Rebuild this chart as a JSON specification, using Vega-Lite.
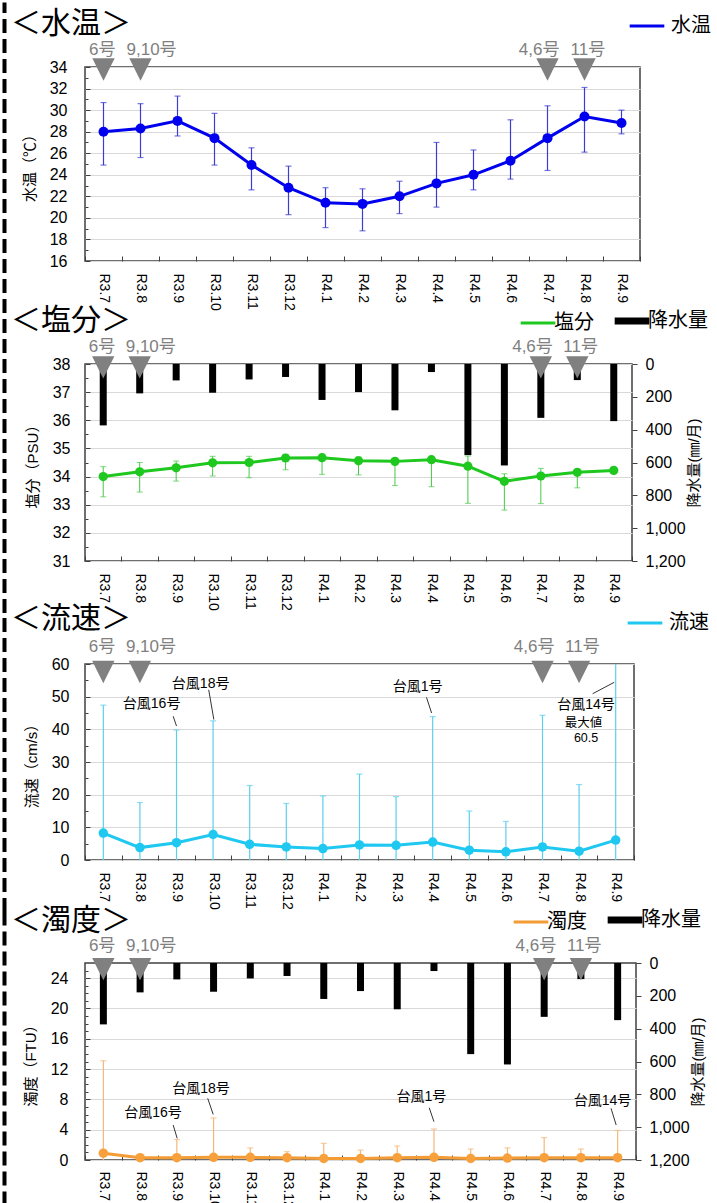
{
"$schema": "https://vega.github.io/schema/vega-lite/v6.json",
"padding": {"left": 3, "top": 6, "right": 0, "bottom": 0},
"spacing": 103,
"bounds": "flush",
"resolve": {"scale": {"color": "independent"}, "legend": {"color": "independent"}},
"datasets": {
"temp": [
{"m":"R3.7","v":28.0,"lo":24.9,"hi":30.7},{"m":"R3.8","v":28.3,"lo":25.6,"hi":30.6},{"m":"R3.9","v":29.0,"lo":27.6,"hi":31.3},{"m":"R3.10","v":27.4,"lo":24.9,"hi":29.7},{"m":"R3.11","v":24.9,"lo":22.6,"hi":26.5},{"m":"R3.12","v":22.8,"lo":20.3,"hi":24.8},{"m":"R4.1","v":21.4,"lo":19.1,"hi":22.8},{"m":"R4.2","v":21.3,"lo":18.8,"hi":22.7},{"m":"R4.3","v":22.0,"lo":20.4,"hi":23.4},{"m":"R4.4","v":23.2,"lo":21.0,"hi":27.0},{"m":"R4.5","v":24.0,"lo":22.6,"hi":26.3},{"m":"R4.6","v":25.3,"lo":23.6,"hi":29.1},{"m":"R4.7","v":27.4,"lo":24.4,"hi":30.4},{"m":"R4.8","v":29.4,"lo":26.1,"hi":32.1},{"m":"R4.9","v":28.8,"lo":27.8,"hi":30.0}],
"sal": [
{"m":"R3.7","v":34.0,"lo":33.28,"hi":34.35},{"m":"R3.8","v":34.17,"lo":33.45,"hi":34.5},{"m":"R3.9","v":34.31,"lo":33.84,"hi":34.55},{"m":"R3.10","v":34.49,"lo":34.02,"hi":34.72},{"m":"R3.11","v":34.5,"lo":33.96,"hi":34.72},{"m":"R3.12","v":34.66,"lo":34.24,"hi":34.79},{"m":"R4.1","v":34.67,"lo":34.08,"hi":34.79},{"m":"R4.2","v":34.56,"lo":34.06,"hi":34.7},{"m":"R4.3","v":34.54,"lo":33.68,"hi":34.62},{"m":"R4.4","v":34.6,"lo":33.64,"hi":34.68},{"m":"R4.5","v":34.37,"lo":33.05,"hi":34.73},{"m":"R4.6","v":33.83,"lo":32.81,"hi":34.1},{"m":"R4.7","v":34.02,"lo":33.04,"hi":34.29},{"m":"R4.8","v":34.15,"lo":33.6,"hi":34.25},{"m":"R4.9","v":34.22,"lo":34.12,"hi":34.3}],
"rain": [
{"m":"R3.7","p":374},{"m":"R3.8","p":179},{"m":"R3.9","p":100},{"m":"R3.10","p":175},{"m":"R3.11","p":94},{"m":"R3.12","p":79},{"m":"R4.1","p":219},{"m":"R4.2","p":171},{"m":"R4.3","p":282},{"m":"R4.4","p":49},{"m":"R4.5","p":555},{"m":"R4.6","p":618},{"m":"R4.7","p":328},{"m":"R4.8","p":98},{"m":"R4.9","p":348}],
"flow": [
{"m":"R3.7","v":8.25,"lo":0,"hi":47.4},{"m":"R3.8","v":3.8,"lo":0,"hi":17.6},{"m":"R3.9","v":5.3,"lo":0,"hi":39.8},{"m":"R3.10","v":7.8,"lo":0,"hi":42.6},{"m":"R3.11","v":4.8,"lo":0,"hi":22.8},{"m":"R3.12","v":4.0,"lo":0,"hi":17.3},{"m":"R4.1","v":3.5,"lo":0,"hi":19.6},{"m":"R4.2","v":4.6,"lo":0,"hi":26.3},{"m":"R4.3","v":4.5,"lo":0,"hi":19.4},{"m":"R4.4","v":5.5,"lo":0,"hi":43.9},{"m":"R4.5","v":3.0,"lo":0,"hi":15.0},{"m":"R4.6","v":2.5,"lo":0,"hi":11.8},{"m":"R4.7","v":4.0,"lo":0,"hi":44.3},{"m":"R4.8","v":2.7,"lo":0,"hi":23.1},{"m":"R4.9","v":6.1,"lo":0,"hi":60.5}],
"turb": [
{"m":"R3.7","v":0.9,"lo":0,"hi":13.1},{"m":"R3.8","v":0.3,"lo":0,"hi":0.5},{"m":"R3.9","v":0.3,"lo":0,"hi":2.7},{"m":"R3.10","v":0.35,"lo":0,"hi":5.55},{"m":"R3.11","v":0.35,"lo":0,"hi":1.6},{"m":"R3.12","v":0.3,"lo":0,"hi":1.1},{"m":"R4.1","v":0.2,"lo":0,"hi":2.2},{"m":"R4.2","v":0.2,"lo":0,"hi":1.3},{"m":"R4.3","v":0.3,"lo":0,"hi":1.85},{"m":"R4.4","v":0.35,"lo":0,"hi":4.1},{"m":"R4.5","v":0.2,"lo":0,"hi":1.45},{"m":"R4.6","v":0.25,"lo":0,"hi":1.6},{"m":"R4.7","v":0.3,"lo":0,"hi":2.95},{"m":"R4.8","v":0.3,"lo":0,"hi":1.45},{"m":"R4.9","v":0.3,"lo":0,"hi":3.9}],
"typhoon": [{"m":"R3.7","label":"6号"},{"m":"R3.8","label":"9,10号"},{"m":"R4.7","label":"4,6号"},{"m":"R4.8","label":"11号"}],
"ann3": [{"t":"台風16号","x":1.82,"y":47.8},{"t":"台風18号","x":3.16,"y":53.9},{"t":"台風1号","x":9.09,"y":53.0},{"t":"台風14号","x":13.69,"y":47.5}],
"ann3b": [{"t":"最大値","x":13.62,"y":41.9},{"t":"60.5","x":13.69,"y":37.4}],
"lead3": [{"x":2.41,"y":44.0,"x2":2.50,"y2":41.0},{"x":3.38,"y":52.1,"x2":3.52,"y2":43.0},{"x":9.33,"y":49.8,"x2":9.47,"y2":45.0},{"x":13.87,"y":50.9,"x2":14.46,"y2":54.4}],
"ann4": [{"t":"台風16号","x":1.85,"y":6.25},{"t":"台風18号","x":3.16,"y":9.35},{"t":"台風1号","x":9.16,"y":8.36},{"t":"台風14号","x":14.09,"y":7.83}],
"lead4": [{"x":2.40,"y":4.62,"x2":2.51,"y2":2.85},{"x":3.34,"y":8.14,"x2":3.49,"y2":6.02},{"x":9.37,"y":6.9,"x2":9.50,"y2":5.06},{"x":14.32,"y":6.82,"x2":14.46,"y2":4.62}]
},
"vconcat": [
{
"width": 555, "height": 194,
"title": {"text": "＜水温＞", "frame": "group", "dx": -74, "offset": 1, "dy": 33},
"resolve": {"scale": {"x": "independent", "y": "independent"}},
"layer": [
{"data": {"name": "typhoon"}, "mark": {"type": "point", "opacity": 0},
 "encoding": {"y": {"datum": 0, "type": "quantitative", "scale": {"domain": [0, 1], "range": [245.5, -65]}, "axis": {"orient": "left", "offset": 81, "domain": true, "domainDash": [14, 6], "domainWidth": 4, "domainColor": "#000", "ticks": false, "labels": false, "grid": false, "title": null}}}},
{"data": {"name": "temp"}, "mark": {"type": "rule", "color": "#3c3cd2", "strokeWidth": 1.2},
 "encoding": {"x": {"field": "m", "type": "nominal", "scale": {"type": "band", "domain": ["R3.7","R3.8","R3.9","R3.10","R3.11","R3.12","R4.1","R4.2","R4.3","R4.4","R4.5","R4.6","R4.7","R4.8","R4.9"], "paddingInner": 0, "paddingOuter": 0}, "axis": null},
  "y": {"field": "lo", "type": "quantitative", "scale": {"domain": [16, 34], "nice": false, "zero": false}, "axis": {"orient": "left", "values": [17,19,21,23,25,27,29,31,33], "labels": false, "grid": false, "tickSize": -3, "title": null}},
  "y2": {"field": "hi"}}},
{"data": {"name": "temp"}, "mark": {"type": "tick", "color": "#3c3cd2", "size": 6, "thickness": 1.2},
 "encoding": {"x": {"field": "m", "type": "nominal", "scale": {"type": "band", "domain": ["R3.7","R3.8","R3.9","R3.10","R3.11","R3.12","R4.1","R4.2","R4.3","R4.4","R4.5","R4.6","R4.7","R4.8","R4.9"], "paddingInner": 0, "paddingOuter": 0}, "axis": null},
  "y": {"field": "lo", "type": "quantitative", "scale": {"domain": [16, 34], "nice": false, "zero": false}, "axis": null}}},
{"data": {"name": "temp"}, "mark": {"type": "tick", "color": "#3c3cd2", "size": 6, "thickness": 1.2},
 "encoding": {"x": {"field": "m", "type": "nominal", "scale": {"type": "band", "domain": ["R3.7","R3.8","R3.9","R3.10","R3.11","R3.12","R4.1","R4.2","R4.3","R4.4","R4.5","R4.6","R4.7","R4.8","R4.9"], "paddingInner": 0, "paddingOuter": 0}, "axis": null},
  "y": {"field": "hi", "type": "quantitative", "scale": {"domain": [16, 34], "nice": false, "zero": false}, "axis": null}}},
{"data": {"name": "temp"}, "mark": {"type": "line", "strokeWidth": 3},
 "encoding": {"x": {"field": "m", "type": "nominal", "scale": {"type": "band", "domain": ["R3.7","R3.8","R3.9","R3.10","R3.11","R3.12","R4.1","R4.2","R4.3","R4.4","R4.5","R4.6","R4.7","R4.8","R4.9"], "paddingInner": 0, "paddingOuter": 0},
   "axis": {"orient": "bottom", "title": null, "labelAngle": 90, "labelAlign": "left", "labelBaseline": "middle", "labelFontSize": 14, "tickBand": "extent", "tickSize": -5, "labelPadding": 17, "grid": false}},
  "y": {"field": "v", "type": "quantitative", "scale": {"domain": [16, 34], "nice": false, "zero": false}, "axis": {"orient": "left", "title": "水温（℃）", "values": [16,18,20,22,24,26,28,30,32,34], "grid": true, "tickSize": -5, "labelPadding": 23}},
  "color": {"datum": "水温", "type": "nominal", "scale": {"domain": ["水温"], "range": ["#0000ee"]}, "legend": {"orient": "none", "legendX": 543, "legendY": -60, "title": null, "symbolStrokeWidth": 3}}}},
{"data": {"name": "temp"}, "mark": {"type": "circle", "size": 100, "color": "#0000ee", "opacity": 1},
 "encoding": {"x": {"field": "m", "type": "nominal", "scale": {"type": "band", "domain": ["R3.7","R3.8","R3.9","R3.10","R3.11","R3.12","R4.1","R4.2","R4.3","R4.4","R4.5","R4.6","R4.7","R4.8","R4.9"], "paddingInner": 0, "paddingOuter": 0}, "axis": null},
  "y": {"field": "v", "type": "quantitative", "scale": {"domain": [16, 34], "nice": false, "zero": false}, "axis": null}}},
{"data": {"name": "typhoon"}, "mark": {"type": "point", "shape": "M-1,-1L1,-1L0,1Z", "size": 500, "filled": true, "color": "#808080", "opacity": 1},
 "encoding": {"x": {"field": "m", "type": "nominal", "scale": {"type": "band", "domain": ["R3.7","R3.8","R3.9","R3.10","R3.11","R3.12","R4.1","R4.2","R4.3","R4.4","R4.5","R4.6","R4.7","R4.8","R4.9"], "paddingInner": 0, "paddingOuter": 0}, "axis": null},
  "y": {"datum": 33.77, "type": "quantitative", "scale": {"domain": [16, 34], "nice": false, "zero": false}, "axis": null}}},
{"data": {"name": "typhoon"}, "transform": [{"filter": {"field": "label", "oneOf": ["6号", "4,6号"]}}],
 "mark": {"type": "text", "align": "right", "baseline": "bottom", "dx": 12, "dy": -8, "fontSize": 17, "color": "#808080"},
 "encoding": {"x": {"field": "m", "type": "nominal", "scale": {"type": "band", "domain": ["R3.7","R3.8","R3.9","R3.10","R3.11","R3.12","R4.1","R4.2","R4.3","R4.4","R4.5","R4.6","R4.7","R4.8","R4.9"], "paddingInner": 0, "paddingOuter": 0}, "axis": null},
  "y": {"datum": 34, "type": "quantitative", "scale": {"domain": [16, 34], "nice": false, "zero": false}, "axis": null},
  "text": {"field": "label"}}},
{"data": {"name": "typhoon"}, "transform": [{"filter": {"field": "label", "oneOf": ["9,10号", "11号"]}}],
 "mark": {"type": "text", "align": "left", "baseline": "bottom", "dx": -14, "dy": -8, "fontSize": 17, "color": "#808080"},
 "encoding": {"x": {"field": "m", "type": "nominal", "scale": {"type": "band", "domain": ["R3.7","R3.8","R3.9","R3.10","R3.11","R3.12","R4.1","R4.2","R4.3","R4.4","R4.5","R4.6","R4.7","R4.8","R4.9"], "paddingInner": 0, "paddingOuter": 0}, "axis": null},
  "y": {"datum": 34, "type": "quantitative", "scale": {"domain": [16, 34], "nice": false, "zero": false}, "axis": null},
  "text": {"field": "label"}}}
]
},
{
"width": 547, "height": 197,
"title": {"text": "＜塩分＞", "frame": "group", "dx": -74, "offset": 1, "dy": 26},
"resolve": {"scale": {"x": "independent", "y": "independent"}},
"layer": [
{"data": {"name": "typhoon"}, "mark": {"type": "point", "opacity": 0},
 "encoding": {"y": {"datum": 0, "type": "quantitative", "scale": {"domain": [0, 1], "range": [248.5, -51.5]}, "axis": {"orient": "left", "offset": 81, "domain": true, "domainDash": [14, 6], "domainWidth": 4, "domainColor": "#000", "ticks": false, "labels": false, "grid": false, "title": null}}}},
{"data": {"name": "rain"}, "mark": {"type": "bar", "size": 7},
 "encoding": {"x": {"field": "m", "type": "nominal", "scale": {"type": "band", "domain": ["R3.7","R3.8","R3.9","R3.10","R3.11","R3.12","R4.1","R4.2","R4.3","R4.4","R4.5","R4.6","R4.7","R4.8","R4.9"], "paddingInner": 0, "paddingOuter": 0}, "axis": null},
  "y": {"field": "p", "type": "quantitative", "scale": {"domain": [0, 1200], "reverse": true, "nice": false}, "axis": {"orient": "right", "values": [0,200,400,600,800,1000,1200], "format": ",.0f", "tickSize": 5, "labelPadding": 8, "grid": false, "title": "降水量(㎜/月)", "titleAngle": 270, "titlePadding": 16}},
  "color": {"datum": "降水量", "type": "nominal"}}},
{"data": {"name": "sal"}, "mark": {"type": "rule", "color": "#46c846", "strokeWidth": 1},
 "encoding": {"x": {"field": "m", "type": "nominal", "scale": {"type": "band", "domain": ["R3.7","R3.8","R3.9","R3.10","R3.11","R3.12","R4.1","R4.2","R4.3","R4.4","R4.5","R4.6","R4.7","R4.8","R4.9"], "paddingInner": 0, "paddingOuter": 0}, "axis": null},
  "y": {"field": "lo", "type": "quantitative", "scale": {"domain": [31, 38], "nice": false, "zero": false}, "axis": {"orient": "left", "values": [31.5,32.5,33.5,34.5,35.5,36.5,37.5], "labels": false, "grid": false, "tickSize": -3, "title": null}},
  "y2": {"field": "hi"}}},
{"data": {"name": "sal"}, "mark": {"type": "tick", "color": "#46c846", "size": 6, "thickness": 1},
 "encoding": {"x": {"field": "m", "type": "nominal", "scale": {"type": "band", "domain": ["R3.7","R3.8","R3.9","R3.10","R3.11","R3.12","R4.1","R4.2","R4.3","R4.4","R4.5","R4.6","R4.7","R4.8","R4.9"], "paddingInner": 0, "paddingOuter": 0}, "axis": null},
  "y": {"field": "lo", "type": "quantitative", "scale": {"domain": [31, 38], "nice": false, "zero": false}, "axis": null}}},
{"data": {"name": "sal"}, "mark": {"type": "tick", "color": "#46c846", "size": 6, "thickness": 1},
 "encoding": {"x": {"field": "m", "type": "nominal", "scale": {"type": "band", "domain": ["R3.7","R3.8","R3.9","R3.10","R3.11","R3.12","R4.1","R4.2","R4.3","R4.4","R4.5","R4.6","R4.7","R4.8","R4.9"], "paddingInner": 0, "paddingOuter": 0}, "axis": null},
  "y": {"field": "hi", "type": "quantitative", "scale": {"domain": [31, 38], "nice": false, "zero": false}, "axis": null}}},
{"data": {"name": "sal"}, "mark": {"type": "line", "strokeWidth": 3},
 "encoding": {"x": {"field": "m", "type": "nominal", "scale": {"type": "band", "domain": ["R3.7","R3.8","R3.9","R3.10","R3.11","R3.12","R4.1","R4.2","R4.3","R4.4","R4.5","R4.6","R4.7","R4.8","R4.9"], "paddingInner": 0, "paddingOuter": 0},
   "axis": {"orient": "bottom", "title": null, "labelAngle": 90, "labelAlign": "left", "labelBaseline": "middle", "labelFontSize": 14, "tickBand": "extent", "tickSize": -5, "labelPadding": 17, "grid": false}},
  "y": {"field": "v", "type": "quantitative", "scale": {"domain": [31, 38], "nice": false, "zero": false}, "axis": {"orient": "left", "title": "塩分（PSU）", "values": [31,32,33,34,35,36,37,38], "grid": true, "tickSize": -5, "labelPadding": 20}},
  "color": {"datum": "塩分", "type": "nominal", "scale": {"domain": ["塩分", "降水量"], "range": ["#1ec81e", "#000000"]},
   "legend": {"orient": "none", "legendX": 443, "legendY": -53, "direction": "horizontal", "title": null, "columnPadding": 6, "labelOffset": 6,
    "encode": {"symbols": {"update": {"stroke": {"signal": "datum.value === '降水量' ? '#000000' : '#1ec864'"}, "strokeWidth": {"signal": "datum.value === '降水量' ? 7 : 3"}}}}}}}},
{"data": {"name": "sal"}, "mark": {"type": "circle", "size": 85, "color": "#1ec81e", "opacity": 1},
 "encoding": {"x": {"field": "m", "type": "nominal", "scale": {"type": "band", "domain": ["R3.7","R3.8","R3.9","R3.10","R3.11","R3.12","R4.1","R4.2","R4.3","R4.4","R4.5","R4.6","R4.7","R4.8","R4.9"], "paddingInner": 0, "paddingOuter": 0}, "axis": null},
  "y": {"field": "v", "type": "quantitative", "scale": {"domain": [31, 38], "nice": false, "zero": false}, "axis": null}}},
{"data": {"name": "typhoon"}, "mark": {"type": "point", "shape": "M-1,-1L1,-1L0,1Z", "size": 500, "filled": true, "color": "#808080", "opacity": 1},
 "encoding": {"x": {"field": "m", "type": "nominal", "scale": {"type": "band", "domain": ["R3.7","R3.8","R3.9","R3.10","R3.11","R3.12","R4.1","R4.2","R4.3","R4.4","R4.5","R4.6","R4.7","R4.8","R4.9"], "paddingInner": 0, "paddingOuter": 0}, "axis": null},
  "y": {"datum": 37.88, "type": "quantitative", "scale": {"domain": [31, 38], "nice": false, "zero": false}, "axis": null}}},
{"data": {"name": "typhoon"}, "transform": [{"filter": {"field": "label", "oneOf": ["6号", "4,6号"]}}],
 "mark": {"type": "text", "align": "right", "baseline": "bottom", "dx": 12, "dy": -8, "fontSize": 17, "color": "#808080"},
 "encoding": {"x": {"field": "m", "type": "nominal", "scale": {"type": "band", "domain": ["R3.7","R3.8","R3.9","R3.10","R3.11","R3.12","R4.1","R4.2","R4.3","R4.4","R4.5","R4.6","R4.7","R4.8","R4.9"], "paddingInner": 0, "paddingOuter": 0}, "axis": null},
  "y": {"datum": 38, "type": "quantitative", "scale": {"domain": [31, 38], "nice": false, "zero": false}, "axis": null},
  "text": {"field": "label"}}},
{"data": {"name": "typhoon"}, "transform": [{"filter": {"field": "label", "oneOf": ["9,10号", "11号"]}}],
 "mark": {"type": "text", "align": "left", "baseline": "bottom", "dx": -14, "dy": -8, "fontSize": 17, "color": "#808080"},
 "encoding": {"x": {"field": "m", "type": "nominal", "scale": {"type": "band", "domain": ["R3.7","R3.8","R3.9","R3.10","R3.11","R3.12","R4.1","R4.2","R4.3","R4.4","R4.5","R4.6","R4.7","R4.8","R4.9"], "paddingInner": 0, "paddingOuter": 0}, "axis": null},
  "y": {"datum": 38, "type": "quantitative", "scale": {"domain": [31, 38], "nice": false, "zero": false}, "axis": null},
  "text": {"field": "label"}}}
]
},
{
"width": 549, "height": 196,
"title": {"text": "＜流速＞", "frame": "group", "dx": -74, "offset": 1, "dy": 31},
"resolve": {"scale": {"x": "independent", "y": "independent"}},
"layer": [
{"data": {"name": "typhoon"}, "mark": {"type": "point", "opacity": 0},
 "encoding": {"y": {"datum": 0, "type": "quantitative", "scale": {"domain": [0, 1], "range": [247.5, -51.5]}, "axis": {"orient": "left", "offset": 81, "domain": true, "domainDash": [14, 6], "domainWidth": 4, "domainColor": "#000", "ticks": false, "labels": false, "grid": false, "title": null}}}},
{"data": {"name": "flow"}, "mark": {"type": "rule", "color": "#5ccfee", "strokeWidth": 1.2, "clip": true},
 "encoding": {"x": {"field": "m", "type": "nominal", "scale": {"type": "band", "domain": ["R3.7","R3.8","R3.9","R3.10","R3.11","R3.12","R4.1","R4.2","R4.3","R4.4","R4.5","R4.6","R4.7","R4.8","R4.9"], "paddingInner": 0, "paddingOuter": 0}, "axis": null},
  "y": {"field": "lo", "type": "quantitative", "scale": {"domain": [0, 60], "nice": false, "zero": false}, "axis": {"orient": "left", "values": [5,15,25,35,45,55], "labels": false, "grid": false, "tickSize": -3, "title": null}},
  "y2": {"field": "hi"}}},
{"data": {"name": "flow"}, "mark": {"type": "tick", "color": "#5ccfee", "size": 6, "thickness": 1.2, "clip": true},
 "encoding": {"x": {"field": "m", "type": "nominal", "scale": {"type": "band", "domain": ["R3.7","R3.8","R3.9","R3.10","R3.11","R3.12","R4.1","R4.2","R4.3","R4.4","R4.5","R4.6","R4.7","R4.8","R4.9"], "paddingInner": 0, "paddingOuter": 0}, "axis": null},
  "y": {"field": "hi", "type": "quantitative", "scale": {"domain": [0, 60], "nice": false, "zero": false}, "axis": null}}},
{"data": {"name": "flow"}, "mark": {"type": "line", "strokeWidth": 3},
 "encoding": {"x": {"field": "m", "type": "nominal", "scale": {"type": "band", "domain": ["R3.7","R3.8","R3.9","R3.10","R3.11","R3.12","R4.1","R4.2","R4.3","R4.4","R4.5","R4.6","R4.7","R4.8","R4.9"], "paddingInner": 0, "paddingOuter": 0},
   "axis": {"orient": "bottom", "title": null, "labelAngle": 90, "labelAlign": "left", "labelBaseline": "middle", "labelFontSize": 14, "tickBand": "extent", "tickSize": -5, "labelPadding": 17, "grid": false}},
  "y": {"field": "v", "type": "quantitative", "scale": {"domain": [0, 60], "nice": false, "zero": false}, "axis": {"orient": "left", "title": "流速（cm/s）", "values": [0,10,20,30,40,50,60], "grid": true, "tickSize": -5, "labelPadding": 21}},
  "color": {"datum": "流速", "type": "nominal", "scale": {"domain": ["流速"], "range": ["#1ec8f0"]}, "legend": {"orient": "none", "legendX": 541, "legendY": -60, "title": null, "symbolStrokeWidth": 3}}}},
{"data": {"name": "flow"}, "mark": {"type": "circle", "size": 90, "color": "#1ec8f0", "opacity": 1},
 "encoding": {"x": {"field": "m", "type": "nominal", "scale": {"type": "band", "domain": ["R3.7","R3.8","R3.9","R3.10","R3.11","R3.12","R4.1","R4.2","R4.3","R4.4","R4.5","R4.6","R4.7","R4.8","R4.9"], "paddingInner": 0, "paddingOuter": 0}, "axis": null},
  "y": {"field": "v", "type": "quantitative", "scale": {"domain": [0, 60], "nice": false, "zero": false}, "axis": null}}},
{"data": {"name": "typhoon"}, "mark": {"type": "point", "shape": "M-1,-1L1,-1L0,1Z", "size": 500, "filled": true, "color": "#808080", "opacity": 1},
 "encoding": {"x": {"field": "m", "type": "nominal", "scale": {"type": "band", "domain": ["R3.7","R3.8","R3.9","R3.10","R3.11","R3.12","R4.1","R4.2","R4.3","R4.4","R4.5","R4.6","R4.7","R4.8","R4.9"], "paddingInner": 0, "paddingOuter": 0}, "axis": null},
  "y": {"datum": 57.55, "type": "quantitative", "scale": {"domain": [0, 60], "nice": false, "zero": false}, "axis": null}}},
{"data": {"name": "typhoon"}, "transform": [{"filter": {"field": "label", "oneOf": ["6号", "4,6号"]}}],
 "mark": {"type": "text", "align": "right", "baseline": "bottom", "dx": 12, "dy": -8, "fontSize": 17, "color": "#808080"},
 "encoding": {"x": {"field": "m", "type": "nominal", "scale": {"type": "band", "domain": ["R3.7","R3.8","R3.9","R3.10","R3.11","R3.12","R4.1","R4.2","R4.3","R4.4","R4.5","R4.6","R4.7","R4.8","R4.9"], "paddingInner": 0, "paddingOuter": 0}, "axis": null},
  "y": {"datum": 60, "type": "quantitative", "scale": {"domain": [0, 60], "nice": false, "zero": false}, "axis": null},
  "text": {"field": "label"}}},
{"data": {"name": "typhoon"}, "transform": [{"filter": {"field": "label", "oneOf": ["9,10号", "11号"]}}],
 "mark": {"type": "text", "align": "left", "baseline": "bottom", "dx": -14, "dy": -8, "fontSize": 17, "color": "#808080"},
 "encoding": {"x": {"field": "m", "type": "nominal", "scale": {"type": "band", "domain": ["R3.7","R3.8","R3.9","R3.10","R3.11","R3.12","R4.1","R4.2","R4.3","R4.4","R4.5","R4.6","R4.7","R4.8","R4.9"], "paddingInner": 0, "paddingOuter": 0}, "axis": null},
  "y": {"datum": 60, "type": "quantitative", "scale": {"domain": [0, 60], "nice": false, "zero": false}, "axis": null},
  "text": {"field": "label"}}},
{"data": {"name": "ann3"}, "mark": {"type": "text", "fontSize": 14, "baseline": "middle", "align": "center", "color": "#000"},
 "encoding": {"x": {"field": "x", "type": "quantitative", "scale": {"domain": [0, 15], "nice": false, "zero": false}, "axis": null},
  "y": {"field": "y", "type": "quantitative", "scale": {"domain": [0, 60], "nice": false, "zero": false}, "axis": null},
  "text": {"field": "t"}}},
{"data": {"name": "ann3b"}, "mark": {"type": "text", "fontSize": 12.5, "baseline": "middle", "align": "center", "color": "#000"},
 "encoding": {"x": {"field": "x", "type": "quantitative", "scale": {"domain": [0, 15], "nice": false, "zero": false}, "axis": null},
  "y": {"field": "y", "type": "quantitative", "scale": {"domain": [0, 60], "nice": false, "zero": false}, "axis": null},
  "text": {"field": "t"}}},
{"data": {"name": "lead3"}, "mark": {"type": "rule", "color": "#000", "strokeWidth": 0.8},
 "encoding": {"x": {"field": "x", "type": "quantitative", "scale": {"domain": [0, 15], "nice": false, "zero": false}, "axis": null},
  "x2": {"field": "x2"},
  "y": {"field": "y", "type": "quantitative", "scale": {"domain": [0, 60], "nice": false, "zero": false}, "axis": null},
  "y2": {"field": "y2"}}}
]
},
{
"width": 551, "height": 197,
"title": {"text": "＜濁度＞", "frame": "group", "dx": -74, "offset": 1, "dy": 27},
"resolve": {"scale": {"x": "independent", "y": "independent"}},
"layer": [
{"data": {"name": "typhoon"}, "mark": {"type": "point", "opacity": 0},
 "encoding": {"y": {"datum": 0, "type": "quantitative", "scale": {"domain": [0, 1], "range": [262, -51.5]}, "axis": {"orient": "left", "offset": 81, "domain": true, "domainDash": [14, 6], "domainWidth": 4, "domainColor": "#000", "ticks": false, "labels": false, "grid": false, "title": null}}}},
{"data": {"name": "rain"}, "mark": {"type": "bar", "size": 7},
 "encoding": {"x": {"field": "m", "type": "nominal", "scale": {"type": "band", "domain": ["R3.7","R3.8","R3.9","R3.10","R3.11","R3.12","R4.1","R4.2","R4.3","R4.4","R4.5","R4.6","R4.7","R4.8","R4.9"], "paddingInner": 0, "paddingOuter": 0}, "axis": null},
  "y": {"field": "p", "type": "quantitative", "scale": {"domain": [0, 1200], "reverse": true, "nice": false}, "axis": {"orient": "right", "values": [0,200,400,600,800,1000,1200], "format": ",.0f", "tickSize": 5, "labelPadding": 8, "grid": false, "title": "降水量(㎜/月)", "titleAngle": 270, "titlePadding": 16}},
  "color": {"datum": "降水量", "type": "nominal"}}},
{"data": {"name": "turb"}, "mark": {"type": "rule", "color": "#f5b87a", "strokeWidth": 1.2, "clip": true},
 "encoding": {"x": {"field": "m", "type": "nominal", "scale": {"type": "band", "domain": ["R3.7","R3.8","R3.9","R3.10","R3.11","R3.12","R4.1","R4.2","R4.3","R4.4","R4.5","R4.6","R4.7","R4.8","R4.9"], "paddingInner": 0, "paddingOuter": 0}, "axis": null},
  "y": {"field": "lo", "type": "quantitative", "scale": {"domain": [0, 26], "nice": false, "zero": false}, "axis": {"orient": "left", "values": [1,2,3,5,6,7,9,10,11,13,14,15,17,18,19,21,22,23,25], "labels": false, "grid": false, "tickSize": -3, "title": null}},
  "y2": {"field": "hi"}}},
{"data": {"name": "turb"}, "mark": {"type": "tick", "color": "#f5b87a", "size": 6, "thickness": 1.2},
 "encoding": {"x": {"field": "m", "type": "nominal", "scale": {"type": "band", "domain": ["R3.7","R3.8","R3.9","R3.10","R3.11","R3.12","R4.1","R4.2","R4.3","R4.4","R4.5","R4.6","R4.7","R4.8","R4.9"], "paddingInner": 0, "paddingOuter": 0}, "axis": null},
  "y": {"field": "hi", "type": "quantitative", "scale": {"domain": [0, 26], "nice": false, "zero": false}, "axis": null}}},
{"data": {"name": "turb"}, "mark": {"type": "line", "strokeWidth": 3},
 "encoding": {"x": {"field": "m", "type": "nominal", "scale": {"type": "band", "domain": ["R3.7","R3.8","R3.9","R3.10","R3.11","R3.12","R4.1","R4.2","R4.3","R4.4","R4.5","R4.6","R4.7","R4.8","R4.9"], "paddingInner": 0, "paddingOuter": 0},
   "axis": {"orient": "bottom", "title": null, "labelAngle": 90, "labelAlign": "left", "labelBaseline": "middle", "labelFontSize": 14, "tickBand": "extent", "tickSize": -5, "labelPadding": 16, "grid": false}},
  "y": {"field": "v", "type": "quantitative", "scale": {"domain": [0, 26], "nice": false, "zero": false}, "axis": {"orient": "left", "title": "濁度（FTU）", "values": [0,4,8,12,16,20,24], "grid": true, "tickSize": -5, "labelPadding": 22}},
  "color": {"datum": "濁度", "type": "nominal", "scale": {"domain": ["濁度", "降水量"], "range": ["#f39c35", "#000000"]},
   "legend": {"orient": "none", "legendX": 436, "legendY": -53, "direction": "horizontal", "title": null, "columnPadding": 6, "labelOffset": 6,
    "encode": {"symbols": {"update": {"stroke": {"signal": "datum.value === '降水量' ? '#000000' : '#f5a623'"}, "strokeWidth": {"signal": "datum.value === '降水量' ? 7 : 3"}}}}}}}},
{"data": {"name": "turb"}, "mark": {"type": "circle", "size": 90, "color": "#f7a03c", "opacity": 1},
 "encoding": {"x": {"field": "m", "type": "nominal", "scale": {"type": "band", "domain": ["R3.7","R3.8","R3.9","R3.10","R3.11","R3.12","R4.1","R4.2","R4.3","R4.4","R4.5","R4.6","R4.7","R4.8","R4.9"], "paddingInner": 0, "paddingOuter": 0}, "axis": null},
  "y": {"field": "v", "type": "quantitative", "scale": {"domain": [0, 26], "nice": false, "zero": false}, "axis": null}}},
{"data": {"name": "typhoon"}, "mark": {"type": "point", "shape": "M-1,-1L1,-1L0,1Z", "size": 500, "filled": true, "color": "#808080", "opacity": 1},
 "encoding": {"x": {"field": "m", "type": "nominal", "scale": {"type": "band", "domain": ["R3.7","R3.8","R3.9","R3.10","R3.11","R3.12","R4.1","R4.2","R4.3","R4.4","R4.5","R4.6","R4.7","R4.8","R4.9"], "paddingInner": 0, "paddingOuter": 0}, "axis": null},
  "y": {"datum": 25.2, "type": "quantitative", "scale": {"domain": [0, 26], "nice": false, "zero": false}, "axis": null}}},
{"data": {"name": "typhoon"}, "transform": [{"filter": {"field": "label", "oneOf": ["6号", "4,6号"]}}],
 "mark": {"type": "text", "align": "right", "baseline": "bottom", "dx": 12, "dy": -8, "fontSize": 17, "color": "#808080"},
 "encoding": {"x": {"field": "m", "type": "nominal", "scale": {"type": "band", "domain": ["R3.7","R3.8","R3.9","R3.10","R3.11","R3.12","R4.1","R4.2","R4.3","R4.4","R4.5","R4.6","R4.7","R4.8","R4.9"], "paddingInner": 0, "paddingOuter": 0}, "axis": null},
  "y": {"datum": 26, "type": "quantitative", "scale": {"domain": [0, 26], "nice": false, "zero": false}, "axis": null},
  "text": {"field": "label"}}},
{"data": {"name": "typhoon"}, "transform": [{"filter": {"field": "label", "oneOf": ["9,10号", "11号"]}}],
 "mark": {"type": "text", "align": "left", "baseline": "bottom", "dx": -14, "dy": -8, "fontSize": 17, "color": "#808080"},
 "encoding": {"x": {"field": "m", "type": "nominal", "scale": {"type": "band", "domain": ["R3.7","R3.8","R3.9","R3.10","R3.11","R3.12","R4.1","R4.2","R4.3","R4.4","R4.5","R4.6","R4.7","R4.8","R4.9"], "paddingInner": 0, "paddingOuter": 0}, "axis": null},
  "y": {"datum": 26, "type": "quantitative", "scale": {"domain": [0, 26], "nice": false, "zero": false}, "axis": null},
  "text": {"field": "label"}}},
{"data": {"name": "ann4"}, "mark": {"type": "text", "fontSize": 14, "baseline": "middle", "align": "center", "color": "#000"},
 "encoding": {"x": {"field": "x", "type": "quantitative", "scale": {"domain": [0, 15], "nice": false, "zero": false}, "axis": null},
  "y": {"field": "y", "type": "quantitative", "scale": {"domain": [0, 26], "nice": false, "zero": false}, "axis": null},
  "text": {"field": "t"}}},
{"data": {"name": "lead4"}, "mark": {"type": "rule", "color": "#000", "strokeWidth": 0.8},
 "encoding": {"x": {"field": "x", "type": "quantitative", "scale": {"domain": [0, 15], "nice": false, "zero": false}, "axis": null},
  "x2": {"field": "x2"},
  "y": {"field": "y", "type": "quantitative", "scale": {"domain": [0, 26], "nice": false, "zero": false}, "axis": null},
  "y2": {"field": "y2"}}}
]
}
],
"config": {
 "font": "Liberation Sans, Noto Sans CJK JP",
 "view": {"stroke": "#404040", "strokeWidth": 1.5},
 "axis": {"domain": false, "labelFontSize": 16, "labelColor": "#000", "titleColor": "#000", "titleFontSize": 15, "titleFontWeight": "normal", "titlePadding": 12, "tickColor": "#404040", "gridColor": "#d9d9d9", "labelFont": "Liberation Sans, Noto Sans CJK JP", "titleFont": "Liberation Sans, Noto Sans CJK JP"},
 "legend": {"labelFontSize": 20, "labelColor": "#000", "symbolType": "stroke", "symbolSize": 1200, "labelOffset": 5, "labelFont": "Liberation Sans, Noto Sans CJK JP"},
 "title": {"fontSize": 30, "fontWeight": "normal", "color": "#000", "anchor": "start", "font": "Liberation Sans, Noto Sans CJK JP"},
 "text": {"font": "Liberation Sans, Noto Sans CJK JP"}
}
}
